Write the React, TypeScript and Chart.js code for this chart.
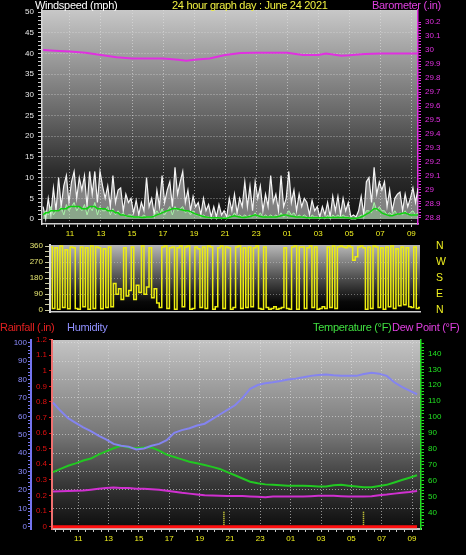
import React, { useEffect, useRef } from "react";
import { Chart, registerables } from "chart.js";

Chart.register(...registerables);

const FONT = '"Liberation Sans", Arial, Helvetica, sans-serif';

// ---------- time axis ----------
const X_LABEL_HOURS = [11, 13, 15, 17, 19, 21, 23, 25, 27, 29, 31, 33];

// ---------- wind panel (10 minute samples) ----------
const WIND_START_HOUR = 9.27;
const WIND_STEP_HOURS = 1 / 6;

const WIND_GUST = [
  3, 0, 5, 1, 7.5, 2,
  10, 3, 8, 10.5, 4, 9,
  11.5, 5, 10, 7, 10.5, 3,
  11.5, 6, 11.5, 4, 11.5, 8,
  5, 8, 3, 10.5, 4, 7,
  7.5, 2, 6, 4, 5, 1.5,
  4.5, 1, 4, 2, 10, 3,
  5, 1, 7, 3, 10.5, 4,
  7, 9, 3, 12.5, 6, 9,
  11.5, 4, 7, 2, 5.5, 3,
  4, 1, 5, 2, 3.5, 0.5,
  3, 0.5, 3.5, 1, 2, 0.5,
  5, 2, 6, 1.5, 5, 3,
  9, 3, 8, 2, 9, 5,
  8, 2, 6, 3, 10.5, 4,
  6, 2, 10.5, 3, 5, 11.5,
  4, 7, 2, 6, 3, 5,
  4, 1, 4.5, 2, 3, 0.5,
  3, 1, 4, 0.5, 5.5, 2,
  5.5, 1, 5, 2, 4, 0.5,
  1, 0.5, 2, 5.5, 1, 9,
  10, 4, 12.5, 6, 9, 7,
  9, 3, 7, 2, 5, 6,
  6.5, 2, 6, 3, 5, 7.5,
  4, 7.5,
];

const WIND_SPEED = [
  1, 2, 1, 3, 1, 2,
  2, 3, 1, 3.5, 2, 3,
  4, 2, 3, 2, 3.5, 1,
  3, 2, 4, 1, 3, 2,
  2, 3, 1, 2.5, 1, 2,
  1, 1.5, 0.5, 1, 1, 0.5,
  0.5, 0.5, 0.5, 1, 0.5, 0.5,
  0.5, 1, 2, 1, 2.5, 1,
  2, 3, 1, 3, 2, 2.5,
  3, 1.5, 2, 1, 2, 1,
  1, 0.5, 1, 0.5, 0.5, 0,
  0.5, 0, 0.5, 0, 0.5, 0,
  1, 0.5, 1.5, 0.5, 1, 0.5,
  1, 0.5, 1, 0.5, 1.5, 0.5,
  1.5, 0.5, 1, 0.5, 1, 0.5,
  1, 0.5, 1.5, 0.5, 1, 2,
  1, 1.5, 0.5, 1, 0.5, 1,
  0.5, 0, 1, 0.5, 0.5, 0,
  0.5, 0, 1, 0, 1, 0.5,
  1, 0.5, 1, 0.5, 0.5, 0,
  0, 0, 0.5, 1, 0.5, 2,
  2, 1.5, 4, 2, 3, 2,
  2, 1, 1.5, 1, 2, 1,
  1.5, 1, 2, 1, 1.5, 2,
  1, 1.5,
];

const WIND_AVERAGE = [
  1, 1.5, 1.5, 2, 2, 2,
  2, 2.5, 2.5, 2.5, 3, 3,
  3, 3, 3, 2.5, 2.5, 2.5,
  3, 3, 3, 2.5, 2.5, 2.5,
  2.5, 2, 2, 2, 1.5, 1.5,
  1, 1, 0.8, 0.7, 0.6, 0.5,
  0.5, 0.5, 0.4, 0.4, 0.5, 0.5,
  0.5, 0.7, 1, 1.2, 1.5, 1.8,
  2, 2.2, 2.5, 2.5, 2.5, 2.3,
  2.2, 2, 2, 1.8, 1.5, 1.2,
  1, 0.8, 0.6, 0.5, 0.4, 0.3,
  0.3, 0.3, 0.3, 0.2, 0.2, 0.2,
  0.4, 0.6, 0.8, 0.6, 0.5, 0.4,
  0.4, 0.5, 0.6, 0.8, 1, 0.8,
  0.6, 0.5, 0.5, 0.5, 0.5, 0.5,
  0.5, 0.6, 0.8, 1, 1, 0.8,
  0.7, 0.6, 0.5, 0.5, 0.5, 0.4,
  0.3, 0.3, 0.3, 0.3, 0.3, 0.3,
  0.3, 0.3, 0.4, 0.4, 0.4, 0.4,
  0.4, 0.4, 0.4, 0.3, 0.3, 0.2,
  0.2, 0.2, 0.3, 0.5, 0.8, 1.2,
  1.5, 2, 2.5, 2.5, 2, 1.5,
  1.2, 1, 0.8, 0.8, 1, 1.2,
  1.2, 1.4, 1.5, 1.2, 1, 1,
  1, 1,
];

const WIND_DIRECTION = [
  355, 10, 350, 5, 360, 15, 340, 8, 355, 350, 10, 5,
  355, 20, 350, 5, 360, 10, 355, 350, 8, 345, 15, 355,
  20, 150, 90, 120, 60, 350,
  80, 110, 355, 60, 140, 100,
  360, 90, 130, 350, 70, 120,
  40, 15, 355, 360, 10, 350,
  355, 5, 350, 360, 20, 355,
  360, 5, 10, 355, 345, 15,
  355, 10, 360, 355, 5, 20,
  350, 360, 10, 355, 350, 5,
  15, 355, 360, 10, 350, 15,
  355, 20, 350, 360, 10, 5,
  355, 15, 5, 10, 20, 5,
  10, 15, 350, 10, 5, 355,
  360, 5, 355, 355, 10, 350,
  360, 15, 355, 5, 10, 20,
  10, 355, 15, 360, 10, 355,
  360, 355, 350, 360, 355, 280,
  300, 355, 360, 350, 5, 355,
  10, 360, 355, 15, 350, 5,
  355, 20, 360, 10, 345, 25,
  355, 30, 350, 20, 15, 355,
  10, 15,
];

const BARO_HOURS = [9.27, 10, 11, 12, 13, 14, 15, 16, 17, 18, 18.5, 19, 20, 21, 22, 23, 24, 25, 26, 27, 27.5, 28.5, 29, 30, 31, 32, 33, 33.43];
const BARO_VALUES = [30.0, 29.995, 29.99, 29.98, 29.965, 29.948, 29.94, 29.94, 29.94, 29.93, 29.924, 29.93, 29.94, 29.964, 29.978, 29.98, 29.98, 29.98, 29.964, 29.964, 29.975, 29.96, 29.962, 29.972, 29.976, 29.976, 29.976, 29.976];

const COMPASS_VALUES = [0, 90, 180, 270, 360];
const COMPASS_LABELS = ["N", "E", "S", "W", "N"];

// ---------- climate panel (half-hour samples) ----------
const CLIMATE_START_HOUR = 9.33;
const CLIMATE_STEP_HOURS = 0.5;

const HUMIDITY = [
  67.5, 63, 59, 56.5, 54, 52, 49.5, 47.5, 45, 44,
  43.5, 42, 42.5, 44, 45, 47, 51, 52.5, 53.5, 55,
  56, 58.5, 61, 63.5, 66, 70, 75, 77, 78, 78.5,
  79.2, 80, 80.5, 81.2, 82, 82.5, 82.7, 82.3, 82, 82,
  82, 83, 83.7, 83.2, 82, 78.5, 76, 74, 72,
];

const TEMPERATURE = [
  65.5, 67.5, 69.5, 71, 72.8, 74, 76.5, 78.5, 80.5, 82,
  81, 80.5, 81, 81, 79, 76.5, 75, 73.5, 72, 71,
  70, 68.8, 67.5, 65.5, 63.5, 61.5, 59.5, 58.5, 57.8, 57.5,
  57.3, 57, 57, 57, 56.8, 56.5, 56.4, 57.2, 57.5, 57,
  56.5, 56, 56, 56.8, 57.5, 59, 60.5, 62, 63.5,
];

const DEW_POINT = [
  53.3, 53.5, 53.7, 53.8, 54, 54.5, 55, 55.5, 55.8, 55.5,
  55.5, 55, 55, 54.8, 54.5, 53.8, 53.2, 52.5, 52, 51.5,
  51, 50.8, 50.6, 50.5, 50.5, 50.5, 50.2, 50, 49.8, 50.2,
  50.2, 50.2, 50.2, 50.2, 50.4, 50.6, 50.6, 50.6, 50.4, 50.2,
  50.2, 50.2, 50.4, 51, 51.4, 52, 52.5, 53, 53.7,
];

const RAINFALL = [
  0, 0, 0, 0, 0, 0, 0, 0, 0, 0,
  0, 0, 0, 0, 0, 0, 0, 0, 0, 0,
  0, 0, 0, 0, 0, 0, 0, 0, 0, 0,
  0, 0, 0, 0, 0, 0, 0, 0, 0, 0,
  0, 0, 0, 0, 0, 0, 0, 0, 0,
];

const SUN_EVENT_HOURS = [20.6, 29.8];
const SUN_MARK_RANGE = [0, 0.1];

// ---------- helpers ----------
const range = (a: number, b: number, s: number) => {
  const out: number[] = [];
  for (let v = a; v <= b + 1e-9; v += s) out.push(Math.round(v * 1000) / 1000);
  return out;
};
const series = (start: number, step: number, values: number[]) =>
  values.map((v, i) => ({ x: start + i * step, y: v }));
const pairs = (xs: number[], ys: number[]) => xs.map((x, i) => ({ x, y: ys[i] }));
const isLabelHour = (v: number) =>
  Math.abs(v - Math.round(v)) < 1e-6 && X_LABEL_HOURS.includes(Math.round(v));
const hourLabel = (v: number) => String(Math.round(v) % 24).padStart(2, "0");

const TRANSPARENT = "rgba(0,0,0,0)";
const DOTTED = "rgba(225,225,225,0.6)";
const tickFont = { family: FONT, size: 8 };

const bgPlugin = (id: string, stops: [number, string][]) => ({
  id,
  beforeDraw(chart: any) {
    const { ctx, chartArea } = chart;
    if (!chartArea) return;
    const { left, top, right, bottom } = chartArea;
    const g = ctx.createLinearGradient(0, top, 0, bottom);
    stops.forEach(([o, c]) => g.addColorStop(o, c));
    ctx.save();
    ctx.fillStyle = g;
    ctx.fillRect(left, top, right - left, bottom - top);
    ctx.restore();
  },
});

const xAxis = (min: number, max: number, height: number, borderColor: string, borderWidth: number) => ({
  type: "linear",
  position: "bottom",
  min,
  max,
  afterBuildTicks: (s: any) => {
    s.ticks = range(9.5, 33, 0.5).map((v) => ({ value: v }));
  },
  afterFit: (s: any) => {
    s.height = height;
  },
  ticks: {
    autoSkip: false,
    maxRotation: 0,
    minRotation: 0,
    color: "#f0f020",
    font: tickFont,
    padding: 2,
    callback: (v: number) => (isLabelHour(v) ? hourLabel(v) : ""),
  },
  grid: {
    color: (c: any) => (c.tick && isLabelHour(c.tick.value) ? DOTTED : TRANSPARENT),
    tickColor: "#c8c8c8",
    tickLength: 3,
  },
  border: { color: borderColor, width: borderWidth, dash: [1, 2] },
});

const baseOptions = (padding: any) => ({
  animation: false,
  responsive: false,
  maintainAspectRatio: false,
  events: [],
  layout: { padding },
  plugins: { legend: { display: false }, tooltip: { enabled: false }, title: { display: false } },
  elements: { point: { radius: 0 }, line: { tension: 0 } },
});

function windConfig(): any {
  return {
    type: "line",
    data: {
      datasets: [
        { label: "Barometer", data: pairs(BARO_HOURS, BARO_VALUES), yAxisID: "baro", borderColor: "#e030e0", borderWidth: 2, pointRadius: 0, order: 0 },
        { label: "Average", data: series(WIND_START_HOUR, WIND_STEP_HOURS, WIND_AVERAGE), yAxisID: "wind", borderColor: "#10d010", borderWidth: 1.5, pointRadius: 0, order: 1 },
        { label: "Speed", data: series(WIND_START_HOUR, WIND_STEP_HOURS, WIND_SPEED), yAxisID: "wind", borderColor: "#a8f5a8", backgroundColor: "rgba(160,240,160,0.35)", fill: "origin", borderWidth: 1, pointRadius: 0, order: 2 },
        { label: "Gust", data: series(WIND_START_HOUR, WIND_STEP_HOURS, WIND_GUST), yAxisID: "wind", borderColor: "#f4f4f4", backgroundColor: "rgba(215,215,215,0.55)", fill: "origin", borderWidth: 1.2, pointRadius: 0, order: 3 },
      ],
    },
    options: {
      ...baseOptions({ top: 10, left: 0, right: 0, bottom: 0 }),
      scales: {
        x: xAxis(9.2, 33.43, 21, "#d0d0d0", 1.5),
        wind: {
          type: "linear",
          position: "left",
          min: -1.2,
          max: 50.5,
          afterBuildTicks: (s: any) => {
            s.ticks = range(0, 50, 1).map((v) => ({ value: v }));
          },
          afterFit: (s: any) => {
            s.width = 42;
          },
          ticks: {
            autoSkip: false,
            color: "#e8e8e8",
            font: tickFont,
            padding: 4,
            callback: (v: number) => (v % 5 === 0 ? String(v) : ""),
          },
          grid: {
            color: (c: any) => (c.tick && c.tick.value % 5 === 0 && c.tick.value > 0 && c.tick.value < 50 ? DOTTED : TRANSPARENT),
            tickColor: "#c8c8c8",
            tickLength: 4,
          },
          border: { color: "#d8d8d8", width: 1.5, dash: [1, 2] },
        },
        baro: {
          type: "linear",
          position: "right",
          min: 28.757,
          max: 30.286,
          afterBuildTicks: (s: any) => {
            s.ticks = range(28.8, 30.2, 0.02).map((v) => ({ value: v }));
          },
          afterFit: (s: any) => {
            s.width = 48;
          },
          ticks: {
            autoSkip: false,
            color: "#e030e0",
            font: tickFont,
            padding: 4,
            callback: (v: number) => (Math.round(v * 100) % 10 === 0 ? String(Number(v.toFixed(1))) : ""),
          },
          grid: { drawOnChartArea: false, tickColor: "#e030e0", tickLength: 3 },
          border: { color: "#e030e0", width: 1.5 },
        },
      },
    },
    plugins: [bgPlugin("bg1", [[0, "#c8c8c8"], [0.5, "#646464"], [0.75, "#2e2e2e"], [1, "#0e0e0e"]])],
  };
}

function directionConfig(): any {
  return {
    type: "line",
    data: {
      datasets: [
        { label: "Direction", data: series(WIND_START_HOUR, WIND_STEP_HOURS, WIND_DIRECTION), yAxisID: "dir", borderColor: "#eeee10", borderWidth: 1.5, pointRadius: 0, stepped: "middle" },
      ],
    },
    options: {
      ...baseOptions({ top: 7, left: 0, right: 0, bottom: 7 }),
      scales: {
        x: {
          type: "linear",
          position: "bottom",
          min: 9.2,
          max: 33.43,
          afterFit: (s: any) => {
            s.height = 0;
          },
          ticks: { display: false },
          grid: { drawOnChartArea: false, drawTicks: false },
          border: { color: "#d0d0d0", width: 1.5 },
        },
        dir: {
          type: "linear",
          position: "left",
          min: -10,
          max: 366,
          afterBuildTicks: (s: any) => {
            s.ticks = range(0, 360, 30).map((v) => ({ value: v }));
          },
          afterFit: (s: any) => {
            s.width = 50;
          },
          ticks: {
            autoSkip: false,
            color: "#e4e470",
            font: tickFont,
            padding: 2,
            callback: (v: number) => (v % 90 === 0 ? String(v) : ""),
          },
          grid: {
            color: (c: any) => (c.tick && c.tick.value % 90 === 0 && c.tick.value > 0 && c.tick.value < 360 ? "rgba(210,210,210,0.45)" : TRANSPARENT),
            tickColor: "#c8c8a0",
            tickLength: 5,
          },
          border: { color: "#d8d8d8", width: 2, dash: [1, 2] },
        },
        compass: {
          type: "linear",
          position: "right",
          min: -10,
          max: 366,
          afterBuildTicks: (s: any) => {
            s.ticks = COMPASS_VALUES.map((v) => ({ value: v }));
          },
          afterFit: (s: any) => {
            s.width = 46;
          },
          ticks: {
            autoSkip: false,
            color: "#f0f020",
            font: { family: FONT, size: 10.5 },
            padding: 0,
            callback: (v: number) => COMPASS_LABELS[COMPASS_VALUES.indexOf(v)] ?? "",
          },
          grid: { display: true, drawOnChartArea: false, drawTicks: true, tickLength: 16, tickColor: TRANSPARENT, color: TRANSPARENT },
          border: { display: false },
        },
      },
    },
    plugins: [bgPlugin("bg2", [[0, "#b8b8b8"], [0.45, "#585858"], [0.85, "#080808"], [1, "#000000"]])],
  };
}

function climateConfig(): any {
  const sunData: any[] = [];
  SUN_EVENT_HOURS.forEach((h, i) => {
    if (i > 0) sunData.push({ x: (SUN_EVENT_HOURS[i - 1] + h) / 2, y: null });
    SUN_MARK_RANGE.forEach((r) => sunData.push({ x: h, y: r }));
  });
  return {
    type: "line",
    data: {
      datasets: [
        { label: "Rainfall", data: series(CLIMATE_START_HOUR, CLIMATE_STEP_HOURS, RAINFALL), yAxisID: "rain", borderColor: "#ff1010", borderWidth: 3, pointRadius: 0, order: 0 },
        { label: "Sun", data: sunData, yAxisID: "rain", borderColor: "#f0f040", borderWidth: 1.5, borderDash: [1, 1], pointRadius: 0, order: 1 },
        { label: "Humidity", data: series(CLIMATE_START_HOUR, CLIMATE_STEP_HOURS, HUMIDITY), yAxisID: "hum", borderColor: "#8484f0", borderWidth: 2, pointRadius: 0, order: 2 },
        { label: "Temperature", data: series(CLIMATE_START_HOUR, CLIMATE_STEP_HOURS, TEMPERATURE), yAxisID: "temp", borderColor: "#22c822", borderWidth: 2, pointRadius: 0, order: 3 },
        { label: "Dew Point", data: series(CLIMATE_START_HOUR, CLIMATE_STEP_HOURS, DEW_POINT), yAxisID: "temp", borderColor: "#d030d0", borderWidth: 2, pointRadius: 0, order: 4 },
      ],
    },
    options: {
      ...baseOptions({ top: 9, left: 0, right: 0, bottom: 0 }),
      scales: {
        x: xAxis(9.27, 33.59, 26, "#c8c8c8", 2),
        hum: {
          type: "linear",
          position: "left",
          weight: 2,
          min: -1.25,
          max: 101.5,
          afterBuildTicks: (s: any) => {
            s.ticks = range(0, 100, 2).map((v) => ({ value: v }));
          },
          afterFit: (s: any) => {
            s.width = 31;
          },
          ticks: {
            autoSkip: false,
            color: "#8c8cff",
            font: tickFont,
            padding: 1,
            callback: (v: number) => (v % 10 === 0 ? String(v) : ""),
          },
          grid: {
            color: (c: any) => (c.tick && c.tick.value % 10 === 0 && c.tick.value > 0 ? DOTTED : TRANSPARENT),
            tickColor: "#7878f0",
            tickLength: 3,
          },
          border: { color: "#7474f0", width: 2, dash: [1, 2] },
        },
        rain: {
          type: "linear",
          position: "left",
          weight: 1,
          min: -0.015,
          max: 1.197,
          afterBuildTicks: (s: any) => {
            s.ticks = range(0, 1.2, 0.1).map((v) => ({ value: v }));
          },
          afterFit: (s: any) => {
            s.width = 21;
          },
          ticks: {
            autoSkip: false,
            color: "#e01010",
            font: tickFont,
            padding: 2,
            callback: (v: number) => String(Number(v.toFixed(1))),
          },
          grid: { drawOnChartArea: false, tickColor: "#e01010", tickLength: 3 },
          border: { color: "#f07070", width: 2 },
        },
        temp: {
          type: "linear",
          position: "right",
          min: 29.8,
          max: 148.4,
          afterBuildTicks: (s: any) => {
            s.ticks = range(32, 146, 2).map((v) => ({ value: v }));
          },
          afterFit: (s: any) => {
            s.width = 45;
          },
          ticks: {
            autoSkip: false,
            color: "#22e022",
            font: tickFont,
            padding: 4,
            callback: (v: number) => (v % 10 === 0 && v >= 40 && v <= 140 ? String(v) : ""),
          },
          grid: { drawOnChartArea: false, tickColor: "#22e022", tickLength: 3 },
          border: { color: "#22e022", width: 1.5 },
        },
      },
    },
    plugins: [bgPlugin("bg3", [[0, "#c4c4c4"], [0.5, "#767676"], [0.75, "#3a3a3a"], [1, "#0c0c0c"]])],
  };
}

const textStyle = (left: number, top: number, color: string): React.CSSProperties => ({
  position: "absolute",
  left,
  top,
  color,
  fontSize: 11,
  lineHeight: "12px",
  letterSpacing: "-0.3px",
  whiteSpace: "nowrap",
  fontFamily: FONT,
});

export default function App() {
  const windRef = useRef<HTMLCanvasElement>(null);
  const dirRef = useRef<HTMLCanvasElement>(null);
  const climateRef = useRef<HTMLCanvasElement>(null);

  useEffect(() => {
    const charts: Chart[] = [];
    if (windRef.current) charts.push(new Chart(windRef.current, windConfig()));
    if (dirRef.current) charts.push(new Chart(dirRef.current, directionConfig()));
    if (climateRef.current) charts.push(new Chart(climateRef.current, climateConfig()));
    return () => charts.forEach((c) => c.destroy());
  }, []);

  return (
    <div style={{ position: "fixed", left: 0, top: 0, width: 466, height: 555, background: "#000", overflow: "hidden" }}>
      <canvas ref={windRef} width={466} height={245} style={{ position: "absolute", left: 0, top: 0, width: 466, height: 245 }} />
      <canvas ref={dirRef} width={466} height={81} style={{ position: "absolute", left: 0, top: 238, width: 466, height: 81 }} />
      <canvas ref={climateRef} width={466} height={224} style={{ position: "absolute", left: 0, top: 331, width: 466, height: 224 }} />

      <span style={textStyle(35, -1, "#ffffff")}>Windspeed (mph)</span>
      <span style={textStyle(172, -1, "#f0f040")}>24 hour graph day : June 24 2021</span>
      <span style={textStyle(372, -1, "#e040e0")}>Barometer (.in)</span>

      <span style={textStyle(0, 321, "#e02020")}>Rainfall (.in)</span>
      <span style={textStyle(67, 321, "#9090ff")}>Humidity</span>
      <span style={textStyle(313, 321, "#40e040")}>Temperature (°F)</span>
      <span style={textStyle(392, 321, "#e040e0")}>Dew Point (°F)</span>
    </div>
  );
}
